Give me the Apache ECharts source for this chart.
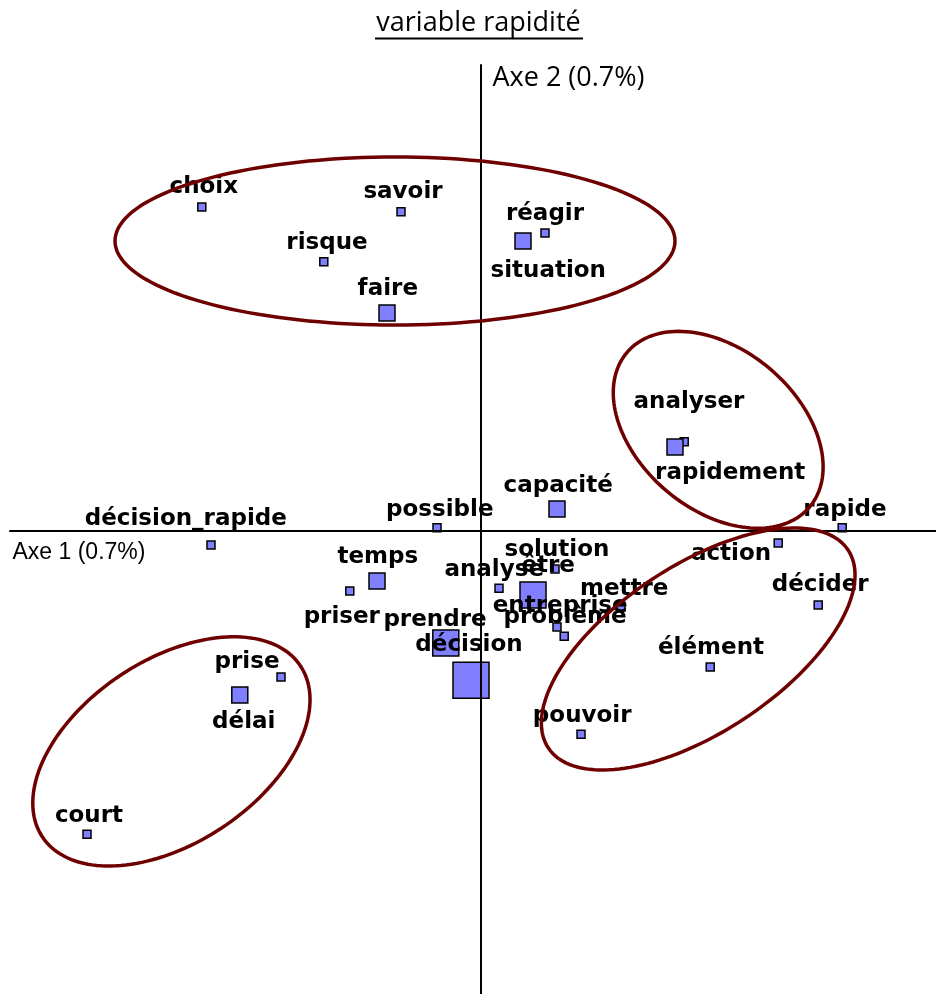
<!DOCTYPE html>
<html>
<head>
<meta charset="utf-8">
<script src="https://cdn.jsdelivr.net/npm/echarts@6.0.0/dist/echarts.min.js"></script>
<style>
html,body{margin:0;padding:0;background:#fff;}
#chart{width:936px;height:994px;}
</style>
</head>
<body>
<div id="chart"></div>
<script>
// ---- data (axis units) ----
const words = ['choix','savoir','risque','faire','réagir','situation','analyser','rapidement','capacité','possible','rapide','décision_rapide','action','décider','temps','priser','analyse','solution','être','mettre','entreprise','problème','prendre','décision','prise','délai','élément','pouvoir','court'];
const axis1 = [-0.698,-0.2,-0.393,-0.235,0.16,0.105,0.508,0.485,0.19,-0.11,0.903,-0.675,0.743,0.843,-0.26,-0.328,0.045,0.185,0.13,0.35,0.19,0.208,-0.088,-0.025,-0.5,-0.603,0.573,0.25,-0.985];
const axis2 = [0.81,0.798,0.673,0.545,0.745,0.725,0.223,0.21,0.055,0.008,0.008,-0.035,-0.03,-0.185,-0.125,-0.15,-0.143,-0.095,-0.16,-0.19,-0.24,-0.263,-0.28,-0.373,-0.365,-0.41,-0.34,-0.508,-0.758];
const weight = [1,1,1,2,1,2,1,2,2,1,1,1,1,1,2,1,1,1,3,1,1,1,3,4,1,2,1,1,1];
const labelX = [-0.693,-0.195,-0.385,-0.233,0.16,0.168,0.52,0.623,0.193,-0.103,0.91,-0.738,0.625,0.848,-0.258,-0.348,0.033,0.19,0.168,0.358,0.198,0.21,-0.115,-0.03,-0.585,-0.593,0.575,0.253,-0.98];
const labelY = [0.86,0.848,0.72,0.605,0.793,0.65,0.323,0.145,0.113,0.053,0.053,0.03,-0.058,-0.135,-0.065,-0.215,-0.098,-0.048,-0.088,-0.145,-0.188,-0.215,-0.223,-0.285,-0.328,-0.478,-0.293,-0.463,-0.713];

// cluster ellipses (centre, semi-axes, rotation in degrees)
const ellipseCX = [-0.215, 0.593, 0.543, -0.774];
const ellipseCY = [0.725, 0.253, -0.295, -0.551];
const ellipseA = [0.70, 0.299, 0.449, 0.387];
const ellipseB = [0.21, 0.2, 0.209, 0.229];
const ellipseAngle = [0, -40.2, 33.4, 33.5];

const titleText = 'variable rapidité';
const axis1Name = 'Axe 1 (0.7%)';
const axis2Name = 'Axe 2 (0.7%)';

// ---- chart ----
const sizeByWeight = [0, 8, 16, 26, 36];
const chart = echarts.init(document.getElementById('chart'), null, {renderer: 'canvas'});

const pointData = words.map((w, i) => ({name: w, value: [axis1[i], axis2[i]], symbolSize: sizeByWeight[weight[i]]}));
const labelData = words.map((w, i) => ({name: w, value: [labelX[i], labelY[i]]}));
const ellipseData = ellipseCX.map((c, i) => [c, ellipseCY[i], ellipseA[i], ellipseB[i], ellipseAngle[i]]);

const option = {
  animation: false,
  backgroundColor: '#fff',
  grid: {left: 10, right: 0, top: 65, bottom: 0, containLabel: false},
  xAxis: {
    type: 'value', min: -1.1775, max: 1.1375, z: 3,
    axisLine: {show: true, onZero: true, lineStyle: {color: '#000', width: 2}},
    axisTick: {show: false}, axisLabel: {show: false}, splitLine: {show: false}
  },
  yAxis: {
    type: 'value', min: -1.1575, max: 1.165, z: 3,
    axisLine: {show: true, onZero: true, lineStyle: {color: '#000', width: 2}},
    axisTick: {show: false}, axisLabel: {show: false}, splitLine: {show: false}
  },
  series: [
    {
      type: 'scatter', z: 2, silent: true,
      symbol: 'rect',
      data: pointData,
      itemStyle: {color: '#8080ff', borderColor: '#000', borderWidth: 1.5, opacity: 1},
      emphasis: {disabled: true}
    },
    {
      type: 'scatter', z: 4, silent: true,
      symbol: 'circle',
      symbolSize: 1,
      itemStyle: {color: 'rgba(255,255,255,0)', borderWidth: 0},
      data: labelData,
      label: {
        show: true, position: 'inside', formatter: '{b}', opacity: 1,
        color: '#000', textBorderWidth: 0,
        fontFamily: 'DejaVu Sans', fontWeight: 'bold', fontSize: 23
      },
      emphasis: {disabled: true}
    },
    {
      type: 'custom', z: 5, silent: true,
      data: ellipseData,
      encode: {x: 0, y: 1},
      renderItem: function (params, api) {
        const cx = api.value(0), cy = api.value(1), a = api.value(2), b = api.value(3);
        const th = api.value(4) * Math.PI / 180;
        const pts = [];
        const n = 160;
        for (let k = 0; k < n; k++) {
          const t = 2 * Math.PI * k / n;
          const x = cx + a * Math.cos(t) * Math.cos(th) - b * Math.sin(t) * Math.sin(th);
          const y = cy + a * Math.cos(t) * Math.sin(th) + b * Math.sin(t) * Math.cos(th);
          pts.push(api.coord([x, y]));
        }
        return {
          type: 'polygon',
          shape: {points: pts},
          style: {fill: 'none', stroke: '#6e0000', lineWidth: 3.5}
        };
      }
    }
  ],
  graphic: [
    {type: 'text', x: 478.5, y: 23.5, style: {text: titleText, font: '27px "Open Sans"', fill: '#000', align: 'center', verticalAlign: 'middle'}},
    {type: 'rect', shape: {x: 375, y: 37.5, width: 208, height: 2}, style: {fill: '#000'}},
    {type: 'text', x: 492.5, y: 78, style: {text: axis2Name, font: '27px "Open Sans"', fill: '#000', align: 'left', verticalAlign: 'middle'}},
    {type: 'text', x: 12.5, y: 553, style: {text: axis1Name, font: '23px "Liberation Sans"', fill: '#000', align: 'left', verticalAlign: 'middle'}}
  ]
};
chart.setOption(option);
</script>
</body>
</html>
